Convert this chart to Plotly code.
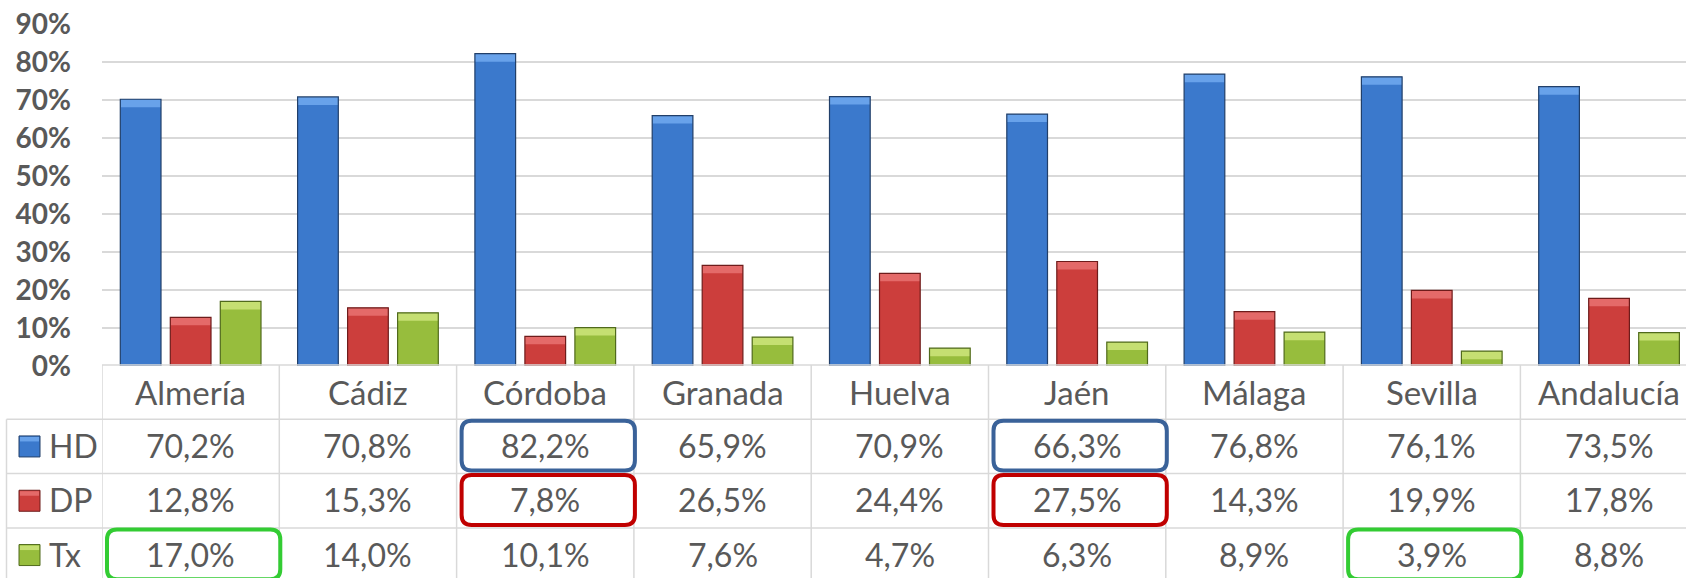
import plotly.graph_objects as go

# datos (porcentajes)
categories = ["Almería", "Cádiz", "Córdoba", "Granada", "Huelva", "Jaén", "Málaga", "Sevilla", "Andalucía"]
series_names = ["HD", "DP", "Tx"]
hd = [70.2, 70.8, 82.2, 65.9, 70.9, 66.3, 76.8, 76.1, 73.5]
dp = [12.8, 15.3, 7.8, 26.5, 24.4, 27.5, 14.3, 19.9, 17.8]
tx = [17.0, 14.0, 10.1, 7.6, 4.7, 6.3, 8.9, 3.9, 8.8]
y_ticks = [0, 10, 20, 30, 40, 50, 60, 70, 80, 90]
y_labels = [f"{t}%" for t in y_ticks]

# celdas resaltadas en la tabla: (provincia, serie)
highlights = [("Córdoba", "HD"), ("Jaén", "HD"),
              ("Córdoba", "DP"), ("Jaén", "DP"),
              ("Almería", "Tx"), ("Sevilla", "Tx")]

values = [hd, dp, tx]
fill = ["#3b79cc", "#cc3e3c", "#97bd3d"]
bevel = ["#68a2ea", "#e46a69", "#c5df72"]
edge = ["#213f69", "#6e1c1b", "#506a1c"]
box_col = {"HD": "#3a6299", "DP": "#c00000", "Tx": "#33cc33"}
txt = "#595959"
grid = "#d9d9d9"

# geometria en pixeles
W, H = 1686, 578
L, T, BOT = 102, 24, 366
cat_w = 177.3
row_top, row_h = 365, 54.3
bev_h = 8 * 90 / (BOT - T)


def py(p):
    return (BOT - p) / (BOT - T)


def px(p):
    return (p - L) / (W - L)


x = list(range(len(categories)))
fig = go.Figure()

for k, name in enumerate(series_names):
    v = values[k]
    fig.add_trace(go.Bar(x=x, y=v, name=name, offsetgroup=str(k),
                         marker=dict(color=fill[k], line=dict(width=0)),
                         showlegend=False, hoverinfo="skip"))
    fig.add_trace(go.Bar(x=x, y=[bev_h] * len(v), base=[a - bev_h for a in v],
                         offsetgroup=str(k),
                         marker=dict(color=bevel[k], line=dict(width=0)),
                         showlegend=False, hoverinfo="skip"))
    fig.add_trace(go.Bar(x=x, y=v, offsetgroup=str(k),
                         marker=dict(color="rgba(0,0,0,0)", line=dict(color=edge[k], width=1.2)),
                         showlegend=False, hovertemplate=name + " %{y:.1f}%<extra></extra>"))

shapes = []
ann = []
line = dict(color=grid, width=1.5)

# bordes de la tabla
shapes.append(dict(type="line", xref="paper", yref="paper",
                   x0=0, x1=1, y0=py(row_top), y1=py(row_top), line=line, layer="above"))
for r in range(1, 4):
    yy = py(row_top + r * row_h)
    shapes.append(dict(type="line", xref="paper", yref="paper",
                       x0=px(6.5), x1=1, y0=yy, y1=yy, line=line))
shapes.append(dict(type="line", xref="paper", yref="paper",
                   x0=px(6.5), x1=px(6.5), y0=py(row_top + row_h), y1=py(H + 10), line=line))
for i in range(len(categories) + 1):
    shapes.append(dict(type="line", xref="x", yref="paper",
                       x0=i - 0.5, x1=i - 0.5, y0=py(row_top), y1=py(H + 10), line=line))

font = dict(family="Lato, Arial, sans-serif", size=32, color=txt)
font_head = dict(family="Lato, Arial, sans-serif", size=33, color=txt)

# cabecera
for i, c in enumerate(categories):
    ann.append(dict(x=i, y=py(row_top + row_h / 2), xref="x", yref="paper", text=c,
                    showarrow=False, font=font_head, xanchor="center", yanchor="middle"))

# filas de valores + claves de leyenda
for k, name in enumerate(series_names):
    cy = row_top + (k + 1.5) * row_h
    for i, v in enumerate(values[k]):
        ann.append(dict(x=i, y=py(cy - 1), xref="x", yref="paper",
                        text=f"{v:.1f}".replace(".", ",") + "%",
                        showarrow=False, font=font, xanchor="center", yanchor="middle"))
    ann.append(dict(x=px(47), y=py(cy - 1), xref="paper", yref="paper", text=name,
                    showarrow=False, font=font, xanchor="left", yanchor="middle"))
    shapes.append(dict(type="rect", xref="paper", yref="paper",
                       x0=px(19), x1=px(40), y0=py(cy - 10.5), y1=py(cy + 10.5),
                       fillcolor=fill[k], line=dict(color=edge[k], width=1)))
    shapes.append(dict(type="rect", xref="paper", yref="paper",
                       x0=px(20), x1=px(39), y0=py(cy - 9.5), y1=py(cy - 5),
                       fillcolor=bevel[k], line=dict(width=0)))

# recuadros redondeados
rx = 10 / cat_w
ry = 10 / (BOT - T)
for cat, ser in highlights:
    i = categories.index(cat)
    k = series_names.index(ser)
    x0 = i - 0.5 + 5 / cat_w
    x1 = i + 0.5 + 1 / cat_w
    y0 = py(row_top + (k + 1) * row_h + 1.5)
    y1 = py(row_top + (k + 2) * row_h - 3)
    path = (f"M {x0 + rx},{y0} L {x1 - rx},{y0} Q {x1},{y0} {x1},{y0 - ry} "
            f"L {x1},{y1 + ry} Q {x1},{y1} {x1 - rx},{y1} "
            f"L {x0 + rx},{y1} Q {x0},{y1} {x0},{y1 + ry} "
            f"L {x0},{y0 - ry} Q {x0},{y0} {x0 + rx},{y0} Z")
    shapes.append(dict(type="path", xref="x", yref="paper", path=path,
                       line=dict(color=box_col[ser], width=4)))

fig.update_layout(
    width=W, height=H,
    margin=dict(l=L, r=0, t=T, b=H - BOT, autoexpand=False),
    paper_bgcolor="white", plot_bgcolor="white",
    barmode="group", bargap=0.154, bargroupgap=0.186,
    showlegend=False,
    shapes=shapes, annotations=ann,
    xaxis=dict(range=[-0.5, -0.5 + (W - L) / cat_w], showticklabels=False,
               showgrid=False, zeroline=False, fixedrange=True, automargin=False),
    yaxis=dict(range=[0, 90], tickvals=y_ticks, ticktext=y_labels,
               showgrid=True, gridcolor=grid, gridwidth=1.5, zeroline=False,
               ticks="", ticklabelstandoff=30, automargin=False,
               tickfont=dict(family="Lato, Arial, sans-serif", size=28, color=txt, weight="bold")),
)

# la pagina por defecto deja 8px de margen en el body
fig.write_html("out.html", config={"displayModeBar": False},
               post_script="document.body.style.margin='0';")
